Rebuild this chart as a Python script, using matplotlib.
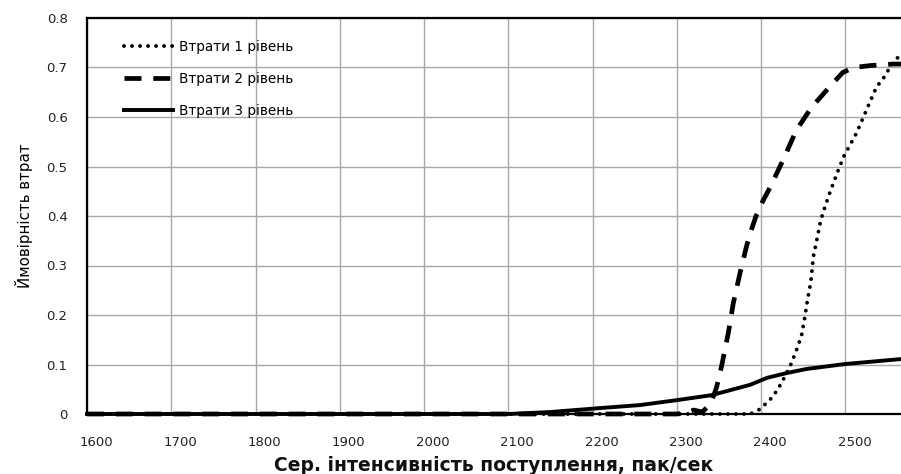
import numpy as np
import matplotlib.pyplot as plt
import matplotlib.transforms as mtransforms

plt.rcParams['font.family'] = ['DejaVu Sans']

# Data
x_lvl1 = [1600, 1700, 1800, 1900, 2000, 2100, 2200, 2300, 2387, 2399, 2414,
          2424, 2434, 2442, 2448, 2452, 2455, 2459, 2462, 2466, 2470, 2473,
          2480, 2490, 2498, 2513, 2525, 2537, 2545, 2551, 2563, 2570]
y_lvl1 = [0, 0, 0, 0, 0, 0, 0, 0, 0, 0.01, 0.035,
          0.062, 0.095, 0.129, 0.159, 0.197, 0.23, 0.267, 0.318, 0.351, 0.385, 0.404,
          0.44, 0.486, 0.52, 0.567, 0.614, 0.661, 0.678, 0.695, 0.722, 0.73]

x_lvl2 = [1600, 1700, 1800, 1900, 2000, 2100, 2200, 2300, 2310, 2320, 2330,
          2340, 2347, 2353, 2361, 2367, 2375, 2383, 2388, 2394, 2402, 2411,
          2426, 2442, 2460, 2485, 2497, 2510, 2530, 2557, 2570]
y_lvl2 = [0, 0, 0, 0, 0, 0, 0, 0, 0.002, 0.008, 0.004,
          0.02, 0.053, 0.096, 0.163, 0.224, 0.285, 0.341, 0.37, 0.40, 0.43, 0.459,
          0.513, 0.574, 0.62, 0.668, 0.69, 0.70, 0.704, 0.707, 0.707]

x_lvl3 = [1600, 1700, 1800, 1900, 2000, 2100, 2150, 2209, 2256, 2300, 2341,
          2387, 2407, 2431, 2454, 2500, 2566, 2570]
y_lvl3 = [0, 0, 0, 0, 0, 0, 0.004, 0.012, 0.018, 0.028, 0.038,
          0.059, 0.073, 0.083, 0.091, 0.101, 0.111, 0.111]

labels = ['Втрати 1 рівень', 'Втрати 2 рівень', 'Втрати 3 рівень']
x_ticks = np.arange(1600, 2501, 100)
y_ticks = np.arange(0, 0.81, 0.1)

W, H = 901, 474
fig = plt.figure(figsize=(W / 100, H / 100), dpi=100)
ax = fig.add_axes([87 / W, (H - 414) / H, (W - 87) / W, (414 - 18) / H])

ax.plot(x_lvl1, y_lvl1, color='black', lw=2.8, linestyle=(0, (0.01, 2.05)),
        dash_capstyle='round', label=labels[0], clip_on=False)
ax.plot(x_lvl2, y_lvl2, color='black', lw=3.4, linestyle=(0, (3.6, 2.5)),
        label=labels[1], clip_on=False)
ax.plot(x_lvl3, y_lvl3, color='black', lw=2.8, label=labels[2], clip_on=False)

ax.set_xlim(1600, 2566)
ax.set_ylim(0, 0.8)
ax.set_xticks(x_ticks)
ax.set_yticks(y_ticks)
ax.set_yticklabels(['0'] + ['%.1f' % v for v in y_ticks[1:]])
ax.grid(True, color='#a8a8a8', lw=1)
ax.set_axisbelow(True)
ax.tick_params(length=0, labelsize=9.5, colors='#222222')
ax.tick_params(axis='x', pad=16)
ax.tick_params(axis='y', pad=14)

# x tick labels sit a little to the right of their gridlines
shift = mtransforms.ScaledTranslation(9 / 100, 0, fig.dpi_scale_trans)
for lab in ax.get_xticklabels():
    lab.set_transform(lab.get_transform() + shift)

for s in ['left', 'bottom', 'top']:
    ax.spines[s].set_color('black')
    ax.spines[s].set_linewidth(1.6)
ax.spines['right'].set_visible(False)

ax.set_xlabel('Сер. інтенсивність поступлення, пак/сек', fontsize=13.5,
              fontweight='bold', labelpad=5, color='#111111')
ax.set_ylabel('Ймовірність втрат', fontsize=10.8, labelpad=10)

ax.legend(loc='upper left', bbox_to_anchor=(0.03, 0.975), frameon=False,
          fontsize=9.8, handlelength=3.6, handletextpad=0.5, labelspacing=1.3)

fig.savefig('out.png', dpi=100)
